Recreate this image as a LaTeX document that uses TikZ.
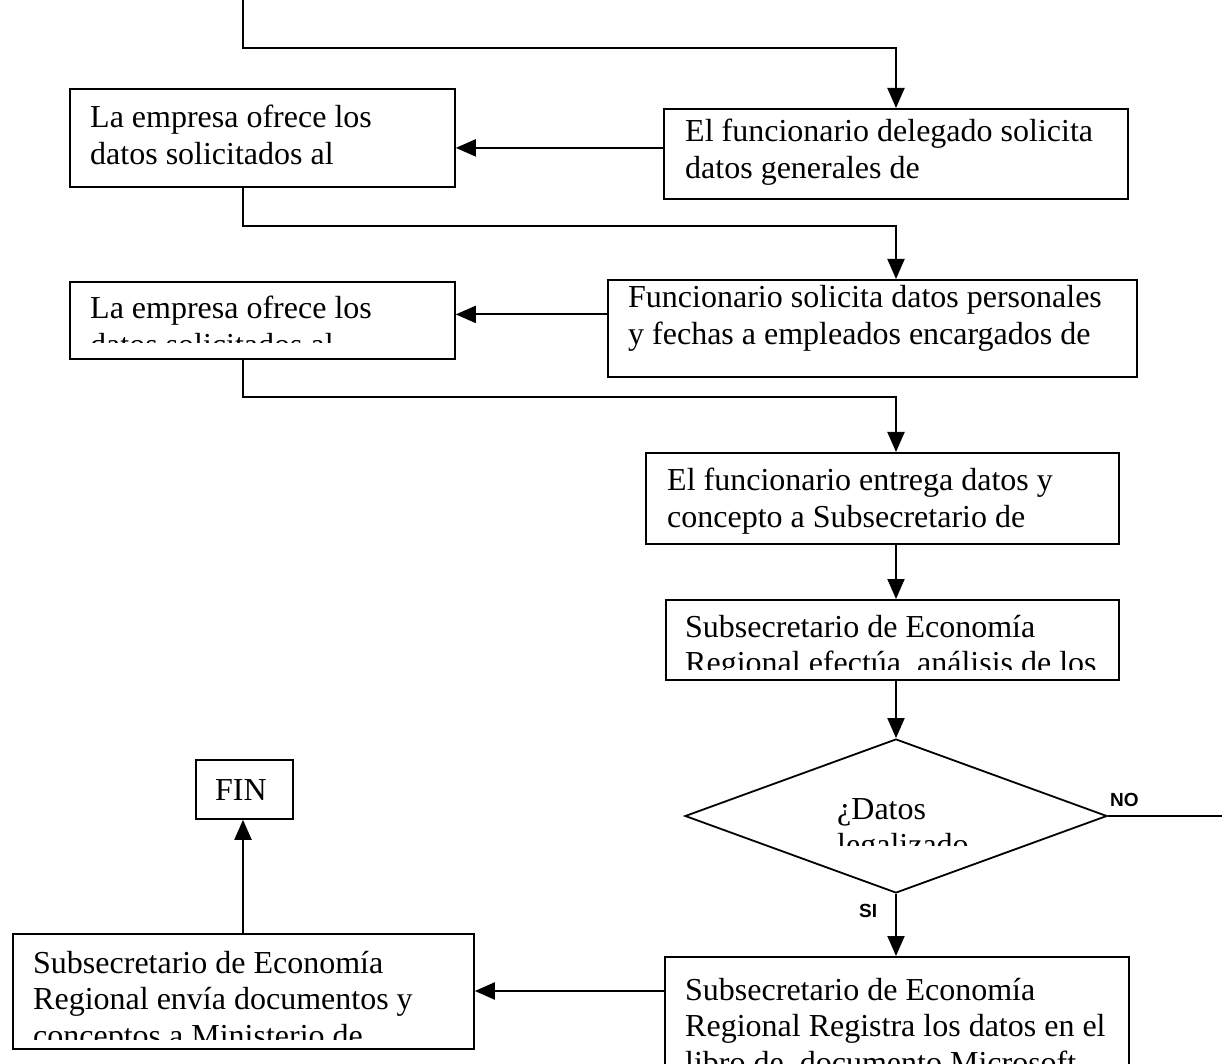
\documentclass[tikz,border=0pt]{standalone}
\usepackage{fontspec}
\setmainfont{Liberation Serif}
\newfontfamily\labelfont{Liberation Sans}
\usetikzlibrary{arrows.meta,shapes.geometric}

\tikzset{
  box/.style={draw, line width=1.8pt, inner sep=0pt, anchor=north west},
  txt/.style={anchor=base west, inner sep=0pt, font=\fontsize{32}{36.8}\selectfont},
  line/.style={line width=2pt},
  arr/.style={line width=2pt, -{Triangle[length=20pt,width=17pt]}},
  lbl/.style={anchor=base west, inner sep=0pt, font=\labelfont\bfseries\fontsize{19}{21}\selectfont},
}

\newcommand{\boxtext}[1]{\parbox[t]{600pt}{\raggedright #1}}

\begin{document}
\begin{tikzpicture}[x=1pt,y=-1pt]
\useasboundingbox (0,0) rectangle (1227,1064);
\clip (0,0) rectangle (1227,1064);

% spine coordinates for the left and right columns of connectors
\coordinate (start) at (243,0);
\coordinate (lx) at (243,0);
\coordinate (rx) at (896,0);
\coordinate (noend) at (1222,816);

% ---- boxes ----
\node[box, minimum width=385pt, minimum height=98pt] (A) at (69,88) {};
\node[box, minimum width=464pt, minimum height=90pt] (B) at (663,108) {};
\node[box, minimum width=385pt, minimum height=77pt] (C) at (69,281) {};
\node[box, minimum width=529pt, minimum height=97pt] (D) at (607,279) {};
\node[box, minimum width=473pt, minimum height=91pt] (E) at (645,452) {};
\node[box, minimum width=453pt, minimum height=80pt] (F) at (665,599) {};
\node[draw, line width=1.8pt, diamond, inner sep=0pt, minimum width=422pt, minimum height=154pt] (Q) at (896,816) {};
\node[box, minimum width=461pt, minimum height=115pt] (G) at (12,933) {};
\node[box, minimum width=464pt, minimum height=160pt] (H) at (664,956) {};
\node[box, minimum width=97pt, minimum height=59pt] (FIN) at (195,759) {};

% ---- box texts, cut off at the inner margin ----
\begin{scope}
  \clip (A.north west) rectangle ([yshift=10pt]A.south east);
  \node[txt] (At) at (90,128) {\boxtext{La empresa ofrece los\\datos solicitados al}};
\end{scope}
\begin{scope}
  \clip (B.north west) rectangle ([yshift=11pt]B.south east);
  \node[txt] (Bt) at (685,142) {\boxtext{El funcionario delegado solicita\\datos generales de}};
\end{scope}
\begin{scope}
  \clip (C.north west) rectangle ([yshift=17pt]C.south east);
  \node[txt] (Ct) at (90,319) {\boxtext{La empresa ofrece los\\datos solicitados al}};
\end{scope}
\begin{scope}
  \clip (D.north west) rectangle ([yshift=4pt]D.south east);
  \node[txt] (Dt) at (628,308) {\boxtext{Funcionario solicita datos personales\\y fechas a empleados encargados de}};
\end{scope}
\begin{scope}
  \clip (E.north west) rectangle ([yshift=9pt]E.south east);
  \node[txt] (Et) at (667,491) {\boxtext{El funcionario entrega datos y\\concepto a Subsecretario de}};
\end{scope}
\begin{scope}
  \clip (F.north west) rectangle ([yshift=11pt]F.south east);
  \node[txt] (Ft) at (685,637) {\boxtext{Subsecretario de Economía\\Regional efectúa\ \ análisis de los}};
\end{scope}
\begin{scope}
  \clip (800,770) rectangle (1000,845);
  \node[txt] (Qt) at (837,819) {\boxtext{¿Datos\\legalizado}};
\end{scope}
\begin{scope}
  \clip (G.north west) rectangle ([yshift=10pt]G.south east);
  \node[txt] (Gt) at (33,973) {\boxtext{Subsecretario de Economía\\Regional envía documentos y\\conceptos a Ministerio de}};
\end{scope}
\begin{scope}
  \clip (H.north west) rectangle ([yshift=10pt]H.south east);
  \node[txt] (Ht) at (685,1000) {\boxtext{Subsecretario de Economía\\Regional Registra los datos en el\\libro de\ \ documento Microsoft}};
\end{scope}
\node[txt] (FINt) at (215,800) {FIN};

% ---- decision labels ----
\node[lbl] (no) at (1110,806) {NO};
\node[lbl] (si) at (859,917) {SI};

% ---- connectors ----
\draw[arr] (start) -- ++(0,48) -| (rx |- B.north);
\draw[arr] ([yshift=6pt]B.west) coordinate (b1) -- (A.east |- b1);
\draw[arr] (A.south -| lx) -- ++(0,38) -| (rx |- D.north);
\draw[arr] ([yshift=14pt]D.west) coordinate (d1) -- (C.east |- d1);
\draw[arr] (C.south -| lx) -- ++(0,37) -| (rx |- E.north);
\draw[arr] (E.south -| rx) -- (rx |- F.north);
\draw[arr] (F.south -| rx) -- (Q.north);
\draw[line] (Q.east) -- (noend);
\draw[arr] (Q.south) -- (rx |- H.north);
\draw[arr] (H.west |- 0,991) coordinate (h1) -- (G.east |- h1);
\draw[arr] (G.north -| lx) -- (FIN.south -| lx);
\end{tikzpicture}
\end{document}
